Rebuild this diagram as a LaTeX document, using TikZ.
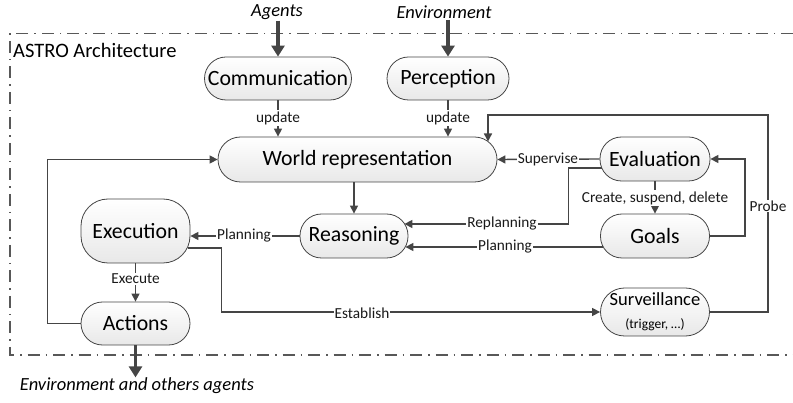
\documentclass[tikz,border=0pt]{standalone}
\usepackage{fontspec}
\setmainfont{Carlito}
\usetikzlibrary{arrows.meta,calc,positioning}
\definecolor{ln}{HTML}{454545}
\tikzset{
  box/.style={draw=ln, line width=0.8pt, rectangle, rounded corners=21.5pt,
    top color=white, bottom color=black!9, inner sep=0pt, align=center,
    font=\fontsize{21.8}{24}\selectfont},
  lbl/.style={fill=white, inner sep=1pt, font=\fontsize{15.3}{16}\selectfont, text=black!90},
  arr/.style={draw=ln, line width=1.4pt, -{Triangle[length=8pt,width=8pt]}},
  bigarr/.style={draw=ln, line width=3.6pt, -{Triangle[length=11pt,width=13pt]}},
  ital/.style={inner sep=0pt, font=\fontsize{18.5}{20}\selectfont\itshape}
}
\begin{document}
\begin{tikzpicture}[x=1pt,y=-1pt]
\useasboundingbox (0,0) rectangle (793,403);
% frame
\draw[ln!90, line width=1.2pt, dash pattern=on 12pt off 6pt on 1.5pt off 6pt]
  (793,33.5) -- (10,33.5) -- (10,355) -- (793,355);
\node[anchor=west, inner sep=0pt, font=\fontsize{20.5}{22}\selectfont] (title) at (13,50) {ASTRO Architecture};
% outer texts
\node[ital] (agents) at (277,12) {Agents};
\node[ital] (env) at (444,12) {Environment};
\node[ital] (envout) at (137,386) {Environment and others agents};
% nodes
\node[box, minimum width=147pt, minimum height=43pt] (comm) at (278,78.5) {Communication};
\node[box, minimum width=122pt, minimum height=43pt] (perc) at (448,78.5) {Perception};
\node[box, minimum width=279pt, minimum height=45pt, rounded corners=22.5pt] (world) at (357.5,159.5) {World representation};
\node[box, minimum width=110pt, minimum height=44pt] (eval) at (655,159) {Evaluation};
\node[box, minimum width=109pt, minimum height=44pt] (goals) at (655,236) {Goals};
\node[box, minimum width=108pt, minimum height=44pt] (reason) at (354,236) {Reasoning};
\node[box, minimum width=109pt, minimum height=64pt, rounded corners=27pt] (exec) at (135.5,231) {Execution};
\node[box, minimum width=109pt, minimum height=43pt] (actions) at (135.5,323.5) {Actions};
\node[box, minimum width=109pt, minimum height=48pt, rounded corners=24pt] (surv) at (655,312)
  {\fontsize{18.5}{18}\selectfont Surveillance\\[-1pt]\fontsize{13.5}{14}\selectfont (trigger, …)};
% big arrows
\draw[bigarr] (comm.north |- agents.south) ++(0,1) -- (comm.north);
\draw[bigarr] (perc.north |- env.south) ++(0,1) -- (perc.north);
\draw[bigarr] (actions.south) -- ++(0,32);
% updates
\draw[arr] (comm.south) -- (comm.south |- world.north);
\node[lbl] (lu1) at (278,118) {update};
\draw[arr] (perc.south) -- (perc.south |- world.north);
\node[lbl] (lu2) at (448,118) {update};
% world -> reasoning
\draw[arr] (reason.north |- world.south) -- (reason.north);
% supervise
\draw[arr] (eval.west) -- (world.east);
\node[lbl] (lsup) at (548,159) {Supervise};
% create
\draw[arr] (eval.south) -- (goals.north);
\node[lbl] (lcr) at (655,198) {Create, suspend, delete};
% replanning
\coordinate (rp0) at ($(eval.west)+(2,9)$);
\coordinate (rp1) at ($(reason.east)+(-4,-12)$);
\draw[arr] (rp0) -- ++(-33,0) |- (rp1);
\node[lbl] (lrp) at (502,224) {Replanning};
% planning goals -> reasoning
\coordinate (pl0) at ($(goals.west)+(3,11)$);
\coordinate (pl1) at ($(reason.east)+(-3,11)$);
\draw[arr] (pl0) -- (pl1);
\node[lbl] (lpl) at (505,247) {Planning};
% reasoning -> execution
\draw[arr] (reason.west) -- (reason.west -| exec.east);
\node[lbl] (lpl2) at (244,236) {Planning};
% execute
\draw[arr] (exec.south) -- (actions.north);
\node[lbl] (lex) at (135.5,279) {Execute};
% actions -> world
\draw[arr] (actions.west) -- ++(-33,0) |- (world.west);
% establish
\coordinate (es0) at ($(exec.east)+(-2,17)$);
\draw[arr] (es0) -- ++(33,0) |- (surv.west);
\node[lbl] (les) at (362,313) {Establish};
% probe
\coordinate (wtop) at (488,141.5);
\draw[arr] (surv.east) -| (768,115) -| (wtop);
\node[lbl] (lpr) at (768,206) {Probe};
% goals -> evaluation
\draw[arr] (goals.east) -- ++(35,0) |- (eval.east);
\end{tikzpicture}
\end{document}
